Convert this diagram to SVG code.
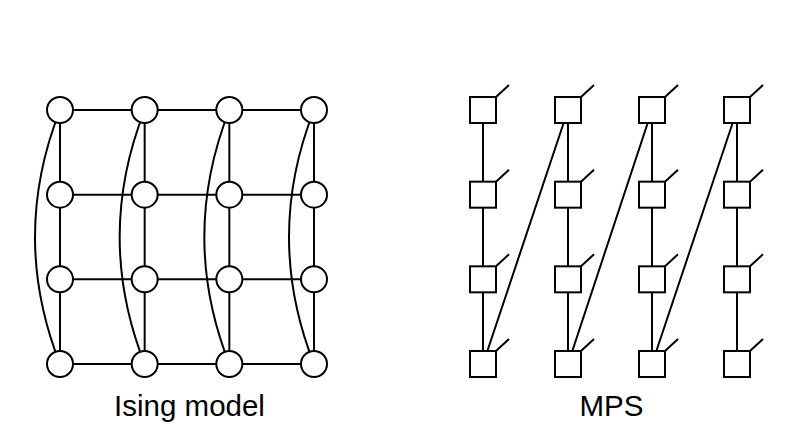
<svg xmlns="http://www.w3.org/2000/svg" width="802" height="443" viewBox="0 0 802 443">
<style>
.e{stroke:#000;stroke-width:2;fill:none}
.n{stroke:#000;stroke-width:2;fill:#fff}
.t{font-family:"Liberation Sans",Arial,sans-serif;font-size:29.5px;fill:#000;text-anchor:middle}
</style>
<rect width="802" height="443" fill="#fff"/>
<g id="connectors">
<path class="e" d="M60,110H314M60,194.67H314M60,279.33H314M60,364H314"/>
<path class="e" d="M60,110V364M144.67,110V364M229.33,110V364M314,110V364"/>
<path class="e" d="M60,110Q10,237 60,364M144.67,110Q94.67,237 144.67,364M229.33,110Q179.33,237 229.33,364M314,110Q264,237 314,364"/>
<path class="e" d="M483,110V364M568,110V364M652,110V364M737,110V364"/>
<path class="e" d="M483,364L568,110M568,364L652,110M652,364L737,110"/>
<path class="e" d="M496,97l13,-12M496,181.67l13,-12M496,266.33l13,-12M496,351l13,-12M581,97l13,-12M581,181.67l13,-12M581,266.33l13,-12M581,351l13,-12M665,97l13,-12M665,181.67l13,-12M665,266.33l13,-12M665,351l13,-12M750,97l13,-12M750,181.67l13,-12M750,266.33l13,-12M750,351l13,-12"/>
</g>
<g id="ising-nodes">
<circle id="s00" class="n" cx="60" cy="110" r="13"/><circle id="s01" class="n" cx="144.67" cy="110" r="13"/><circle id="s02" class="n" cx="229.33" cy="110" r="13"/><circle id="s03" class="n" cx="314" cy="110" r="13"/>
<circle id="s10" class="n" cx="60" cy="194.67" r="13"/><circle id="s11" class="n" cx="144.67" cy="194.67" r="13"/><circle id="s12" class="n" cx="229.33" cy="194.67" r="13"/><circle id="s13" class="n" cx="314" cy="194.67" r="13"/>
<circle id="s20" class="n" cx="60" cy="279.33" r="13"/><circle id="s21" class="n" cx="144.67" cy="279.33" r="13"/><circle id="s22" class="n" cx="229.33" cy="279.33" r="13"/><circle id="s23" class="n" cx="314" cy="279.33" r="13"/>
<circle id="s30" class="n" cx="60" cy="364" r="13"/><circle id="s31" class="n" cx="144.67" cy="364" r="13"/><circle id="s32" class="n" cx="229.33" cy="364" r="13"/><circle id="s33" class="n" cx="314" cy="364" r="13"/>
</g>
<g id="mps-nodes">
<rect id="m00" class="n" x="470" y="97" width="26" height="26"/><rect id="m10" class="n" x="470" y="181.67" width="26" height="26"/><rect id="m20" class="n" x="470" y="266.33" width="26" height="26"/><rect id="m30" class="n" x="470" y="351" width="26" height="26"/>
<rect id="m01" class="n" x="555" y="97" width="26" height="26"/><rect id="m11" class="n" x="555" y="181.67" width="26" height="26"/><rect id="m21" class="n" x="555" y="266.33" width="26" height="26"/><rect id="m31" class="n" x="555" y="351" width="26" height="26"/>
<rect id="m02" class="n" x="639" y="97" width="26" height="26"/><rect id="m12" class="n" x="639" y="181.67" width="26" height="26"/><rect id="m22" class="n" x="639" y="266.33" width="26" height="26"/><rect id="m32" class="n" x="639" y="351" width="26" height="26"/>
<rect id="m03" class="n" x="724" y="97" width="26" height="26"/><rect id="m13" class="n" x="724" y="181.67" width="26" height="26"/><rect id="m23" class="n" x="724" y="266.33" width="26" height="26"/><rect id="m33" class="n" x="724" y="351" width="26" height="26"/>
</g>
<g id="labels">
<text class="t" x="189.5" y="416">Ising model</text>
<text class="t" x="611.5" y="416">MPS</text>
</g>
</svg>
